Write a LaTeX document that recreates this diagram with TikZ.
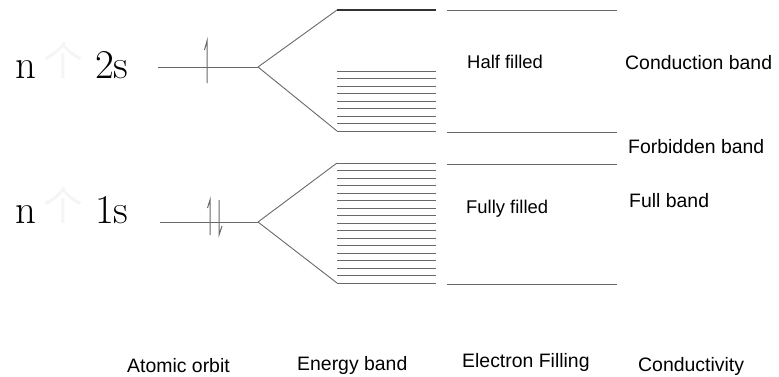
\documentclass[tikz,border=0pt]{standalone}
\usepackage{fontspec}
\newfontfamily\labelfont{Liberation Sans}
\newfontfamily\cjkfont{Noto Sans CJK SC}
\definecolor{linegray}{RGB}{105,105,105}
\definecolor{darkline}{RGB}{50,50,50}
\definecolor{ghost}{RGB}{245,245,245}
\begin{document}
\begin{tikzpicture}[x=1bp,y=-1bp,
  orbital/.style={draw=linegray, line width=0.9bp},
  level/.style={draw=linegray, line width=0.9bp},
  spin/.style={draw=linegray, line width=1bp},
  quantum/.style={anchor=base west, inner sep=0pt, font=\fontsize{41}{41}\selectfont},
  faint/.style={anchor=base west, inner sep=0pt, text=ghost, font=\cjkfont\fontsize{40}{40}\selectfont},
  caption/.style={anchor=base west, inner sep=0pt, font=\labelfont\fontsize{19.5}{20}\selectfont},
  note/.style={anchor=base west, inner sep=0pt, font=\labelfont\fontsize{18.5}{20}\selectfont}]
\useasboundingbox (0,0) rectangle (779,376);

% ---- atomic orbitals ----
\node[quantum] (n2) at (15,78) {n};
\node[faint]   (g2) at (43,75) {个};
\node[quantum] (l2) at (95,78) {2s};
\node[quantum] (n1) at (15,223) {n};
\node[faint]   (g1) at (43,220) {个};
\node[quantum] (l1) at (95,223) {1s};

\coordinate (o2) at (158,67);
\coordinate (b2) at (258,67);
\coordinate (o1) at (160,222);
\coordinate (b1) at (258,222);
\draw[orbital] (o2) -- (b2);
\draw[orbital] (o1) -- (b1);

% spin arrows (half-headed)
\coordinate (u2a) at (207,83); \coordinate (u2b) at (207,41);
\draw[spin] (u2a) -- (u2b) -- ++(-2.5,9);
\coordinate (u1a) at (210,235); \coordinate (u1b) at (210,200);
\draw[spin] (u1a) -- (u1b) -- ++(-2.5,8);
\coordinate (d1a) at (219,200); \coordinate (d1b) at (219,235);
\draw[spin] (d1a) -- (d1b) -- ++(3,-9);

% ---- splitting into bands ----
\coordinate (t2) at (337,10);  \coordinate (t2e) at (436,10);
\coordinate (e2) at (337,131);
\coordinate (t1) at (337,163);
\coordinate (e1) at (337,283);
\draw[orbital] (b2) -- (t2);
\draw[orbital] (b2) -- (e2);
\draw[orbital] (b1) -- (t1);
\draw[orbital] (b1) -- (e1);
\draw[draw=darkline, line width=1.1bp] (t2) -- (t2e);
\foreach \i in {0,...,8}
  \draw[level] (337,71+7.5*\i) -- (436,71+7.5*\i);
\foreach \i in {0,...,16}
  \draw[level] (337,163+7.5*\i) -- (436,163+7.5*\i);

% ---- electron filling ----
\foreach \y in {10,132,164,284}
  \draw[level] (447,\y) -- (617,\y);
\node[note] (half) at (467,68) {Half filled};
\node[note] (full) at (466,213) {Fully filled};

% ---- conductivity ----
\node[caption] (cb) at (625,69) {Conduction band};
\node[caption] (fb) at (628,153) {Forbidden band};
\node[caption] (vb) at (629,207) {Full band};

% ---- column captions ----
\node[caption] (c1) at (127,372) {Atomic orbit};
\node[caption] (c2) at (297,370) {Energy band};
\node[caption] (c3) at (462,367) {Electron Filling};
\node[caption] (c4) at (638,371) {Conductivity};
\end{tikzpicture}
\end{document}
